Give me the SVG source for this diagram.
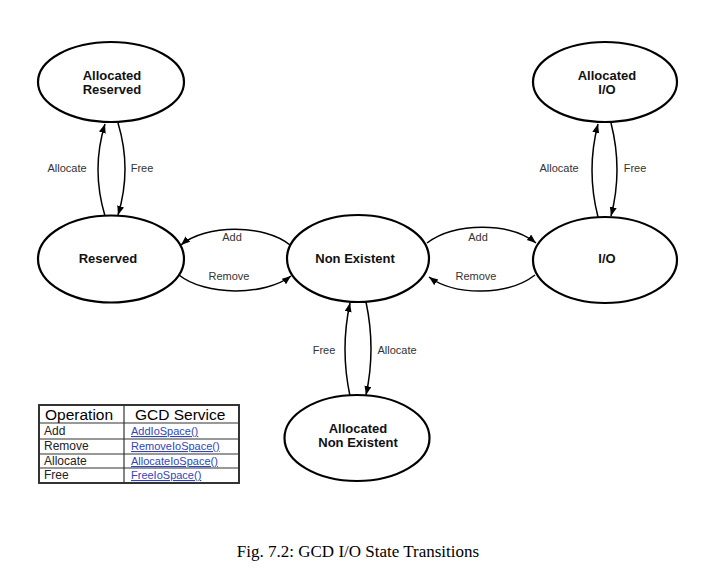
<svg xmlns="http://www.w3.org/2000/svg" width="721" height="569" viewBox="0 0 721 569">
<style>
.node{fill:#fff;stroke:#000;stroke-width:2.2}
.nt{font-family:"Liberation Sans",Arial,sans-serif;font-weight:bold;font-size:13px;fill:#111;text-anchor:middle}
.edge{fill:none;stroke:#000;stroke-width:1.5;marker-end:url(#arr)}
.el{font-family:"Liberation Sans",Arial,sans-serif;font-size:11px;fill:#333;text-anchor:middle}
.th{font-family:"Liberation Sans",Arial,sans-serif;font-size:15.5px;fill:#000}
.td{font-family:"Liberation Sans",Arial,sans-serif;font-size:12px;fill:#222}
.lk{font-family:"Liberation Sans",Arial,sans-serif;font-size:11px;fill:#3344bb;text-decoration:underline}
.grid{stroke:#333;stroke-width:1.2;fill:none}
</style>
<defs>
<marker id="arr" markerUnits="userSpaceOnUse" markerWidth="10" markerHeight="8" refX="9" refY="3.5" orient="auto">
<path d="M0,0 L9,3.5 L0,7 z" fill="#000"/>
</marker>
</defs>
<rect width="721" height="569" fill="#fff"/>
<g id="connectors">
<path class="edge" d="M105,216 Q91,169 105,124"/>
<path class="edge" d="M118,123 Q132,169 118,215"/>
<path class="edge" d="M598,217 Q586,170 598,124"/>
<path class="edge" d="M611,123 Q623,170 611,216"/>
<path class="edge" d="M350,396 Q340,349 350,303"/>
<path class="edge" d="M366,302 Q376,349 366,395"/>
<path class="edge" d="M290,245 C265,224 205,224 181,245"/>
<path class="edge" d="M179,275 C205,296 265,296 291,276"/>
<path class="edge" d="M427,243 C455,222 510,222 536,243"/>
<path class="edge" d="M535,275 C508,296 455,296 429,277"/>
<text class="el" x="67" y="172">Allocate</text>
<text class="el" x="142" y="172">Free</text>
<text class="el" x="559" y="172">Allocate</text>
<text class="el" x="635" y="172">Free</text>
<text class="el" x="232" y="241">Add</text>
<text class="el" x="229" y="280">Remove</text>
<text class="el" x="478" y="241">Add</text>
<text class="el" x="476" y="280">Remove</text>
<text class="el" x="324" y="354">Free</text>
<text class="el" x="397" y="354">Allocate</text>
</g>
<g id="allocated-reserved">
<ellipse class="node" cx="111" cy="82" rx="73" ry="40"/>
<text class="nt" x="112" y="80">Allocated</text>
<text class="nt" x="112" y="94">Reserved</text>
</g>
<g id="allocated-io">
<ellipse class="node" cx="605" cy="82" rx="72" ry="40"/>
<text class="nt" x="607" y="80">Allocated</text>
<text class="nt" x="607" y="94">I/O</text>
</g>
<g id="reserved">
<ellipse class="node" cx="111" cy="259" rx="73" ry="43.5"/>
<text class="nt" x="108" y="263">Reserved</text>
</g>
<g id="non-existent">
<ellipse class="node" cx="358" cy="258.5" rx="71" ry="43.5"/>
<text class="nt" x="355" y="263">Non Existent</text>
</g>
<g id="io">
<ellipse class="node" cx="605" cy="260" rx="72" ry="43"/>
<text class="nt" x="607" y="263">I/O</text>
</g>
<g id="allocated-non-existent">
<ellipse class="node" cx="357" cy="438" rx="72.5" ry="43"/>
<text class="nt" x="358" y="433">Allocated</text>
<text class="nt" x="358" y="447">Non Existent</text>
</g>
<g id="table">
<rect x="39" y="405" width="200" height="78" fill="#fff" stroke="#333" stroke-width="2"/>
<line class="grid" x1="39" y1="423" x2="239" y2="423"/>
<line class="grid" x1="39" y1="439" x2="239" y2="439"/>
<line class="grid" x1="39" y1="454" x2="239" y2="454"/>
<line class="grid" x1="39" y1="468" x2="239" y2="468"/>
<line class="grid" x1="124" y1="405" x2="124" y2="483"/>
<text class="th" x="45" y="420">Operation</text>
<text class="th" x="135" y="420">GCD Service</text>
<text class="td" x="44" y="435">Add</text>
<text class="td" x="44" y="450">Remove</text>
<text class="td" x="44" y="465">Allocate</text>
<text class="td" x="44" y="479">Free</text>
<text class="lk" x="131" y="435">AddIoSpace()</text>
<text class="lk" x="131" y="450">RemoveIoSpace()</text>
<text class="lk" x="131" y="465">AllocateIoSpace()</text>
<text class="lk" x="131" y="479">FreeIoSpace()</text>
</g>
<text x="358" y="557" font-family="'Liberation Serif','Times New Roman',serif" font-size="17" fill="#000" text-anchor="middle">Fig. 7.2: GCD I/O State Transitions</text>
</svg>
